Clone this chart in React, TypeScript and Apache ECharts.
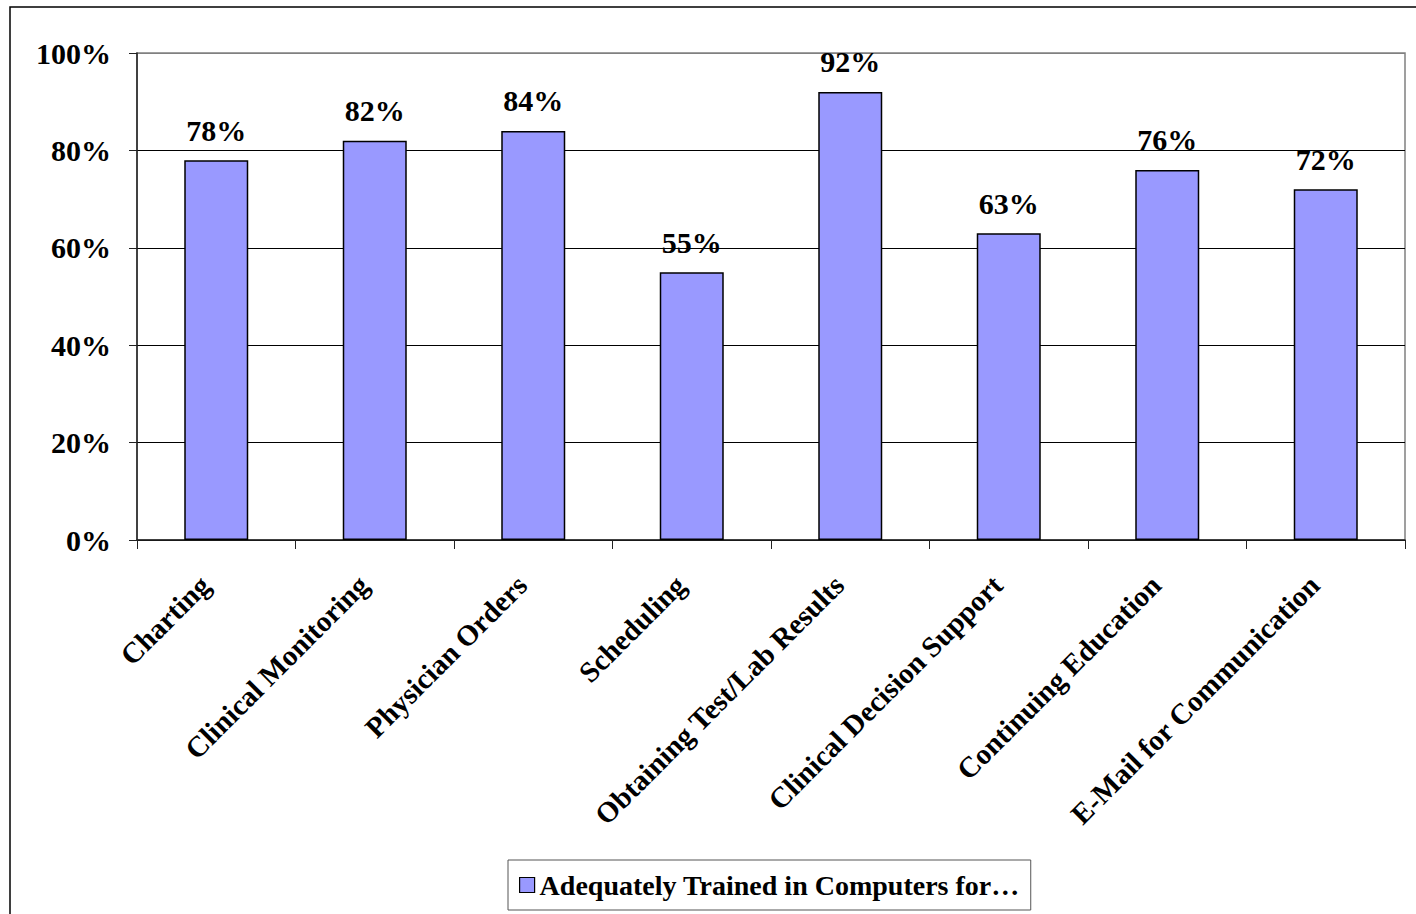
import React, { useEffect, useRef } from "react";
import * as echarts from "echarts";

const categories = [
  "Charting",
  "Clinical Monitoring",
  "Physician Orders",
  "Scheduling",
  "Obtaining Test/Lab Results",
  "Clinical Decision Support",
  "Continuing Education",
  "E-Mail for Communication",
];
const trainedPct = [78, 82, 84, 55, 92, 63, 76, 72];
const seriesName = "Adequately Trained in Computers for\u2026";
const yTicks = { min: 0, max: 100, interval: 20 };

const FONT = "'Liberation Serif', 'Times New Roman', serif";

export default function App() {
  const ref = useRef<HTMLDivElement>(null);

  useEffect(() => {
    if (!ref.current) return;
    const chart = echarts.init(ref.current, undefined, { renderer: "svg" });
    chart.setOption({
      animation: false,
      backgroundColor: "#ffffff",
      textStyle: { fontFamily: FONT },
      graphic: [
        {
          type: "rect",
          shape: { x: 10, y: 7, width: 1420, height: 920 },
          style: { fill: "none", stroke: "#000", lineWidth: 1.5 },
          silent: true,
        },
      ],
      grid: {
        left: 137,
        top: 53,
        right: 11,
        bottom: 374,
        show: true,
        borderColor: "#808080",
        borderWidth: 1.5,
      },
      legend: {
        left: 508,
        top: 860,
        padding: [11, 11],
        borderColor: "#555",
        borderWidth: 1,
        icon: "rect",
        itemWidth: 15,
        itemHeight: 15,
        itemGap: 8,
        itemStyle: { borderColor: "#000", borderWidth: 1.2 },
        textStyle: {
          fontFamily: FONT,
          fontWeight: "bold",
          fontSize: 28,
          color: "#000",
        },
        data: [seriesName],
      },
      xAxis: {
        type: "category",
        data: categories,
        axisLine: { lineStyle: { color: "#222", width: 1.5 } },
        axisTick: { show: true, length: 9, interval: 0, lineStyle: { color: "#222", width: 1 } },
        axisLabel: {
          interval: 0,
          rotate: 45,
          margin: 29,
          padding: [0, 16, 0, 0],
          fontFamily: FONT,
          fontWeight: "bold",
          fontSize: 29,
          color: "#000",
        },
      },
      yAxis: {
        type: "value",
        min: yTicks.min,
        max: yTicks.max,
        interval: yTicks.interval,
        axisLine: { show: true, lineStyle: { color: "#222", width: 1.5 } },
        axisTick: { show: true, length: 8, lineStyle: { color: "#222", width: 1 } },
        splitLine: {
          show: true,
          lineStyle: {
            color: ["#000", "#000", "#000", "#000", "#000", "#808080"],
            width: 1,
          },
        },
        axisLabel: {
          margin: 26,
          formatter: "{value}%",
          fontFamily: FONT,
          fontWeight: "bold",
          fontSize: 30,
          color: "#000",
        },
      },
      series: [
        {
          name: seriesName,
          type: "bar",
          data: trainedPct,
          barWidth: 64,
          itemStyle: { color: "#9999FF", borderColor: "#000", borderWidth: 1.5 },
          label: {
            show: true,
            position: "top",
            distance: 15,
            formatter: "{c}%",
            fontFamily: FONT,
            fontWeight: "bold",
            fontSize: 30,
            color: "#000",
          },
        },
      ],
    });
    return () => chart.dispose();
  }, []);

  return (
    <div
      ref={ref}
      style={{ position: "fixed", left: 0, top: 0, width: 1416, height: 914 }}
    />
  );
}
